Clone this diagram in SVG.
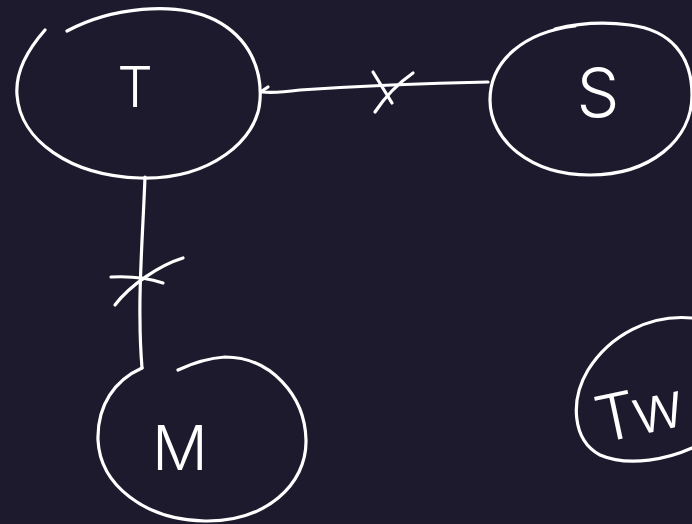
<svg xmlns="http://www.w3.org/2000/svg" width="692" height="524" viewBox="0 0 692 524">
<style>
.bg{fill:#1e1a2e}
.ln{fill:none;stroke:#ffffff;stroke-width:3.2;stroke-linecap:round;stroke-linejoin:round}
.lb{fill:#ffffff;font-family:"Inter","Open Sans","Liberation Sans",sans-serif;font-weight:300;text-anchor:middle}
</style>
<rect class="bg" x="0" y="0" width="692" height="524"/>
<g id="connectors">
<g id="edge-S-T">
<path class="ln" d="M488,82 C440,83 360,86 300,90 C285,92 272,93 262,92"/>
<path class="ln" d="M262,91 L268,87"/>
<path class="ln" d="M373,72 L392,103"/>
<path class="ln" d="M413,73 C400,82 385,97 375,112"/>
</g>
<g id="edge-T-M">
<path class="ln" d="M145,177 C143,230 139,280 140,320 C140,340 141,355 142,368"/>
<path class="ln" d="M111,277 C130,276 148,278 163,283"/>
<path class="ln" d="M183,258 C160,265 130,285 115,305"/>
</g>
</g>
<g id="node-T">
<path class="ln" d="M67,31 C110,8 175,0 215,20 C250,38 262,70 260,100 C258,140 210,180 140,178 C70,176 20,140 17,95 C15,70 30,47 45,30"/>
<text class="lb" x="135" y="107" font-size="56">T</text>
</g>
<g id="node-S">
<path class="ln" d="M555,29 C575,24 600,21 630,25 C670,30 692,55 692,95 C692,140 650,175 590,175 C530,175 490,140 490,100 C490,60 525,32 575,26"/>
<text class="lb" x="598" y="117" font-size="68">S</text>
</g>
<g id="node-M">
<path class="ln" d="M178,370 C195,362 210,358 225,357 C270,357 305,395 306,440 C307,485 265,522 205,521 C145,520 100,485 98,440 C97,405 115,380 142,368"/>
<text class="lb" x="180" y="470" font-size="62">M</text>
</g>
<g id="node-Tw">
<path class="ln" d="M692,318 C650,314 610,335 588,370 C570,400 572,440 600,455 C630,468 670,458 692,448"/>
<text class="lb" x="644" y="434" font-size="64" transform="rotate(-12 644 434)">Tw</text>
</g>
</svg>
